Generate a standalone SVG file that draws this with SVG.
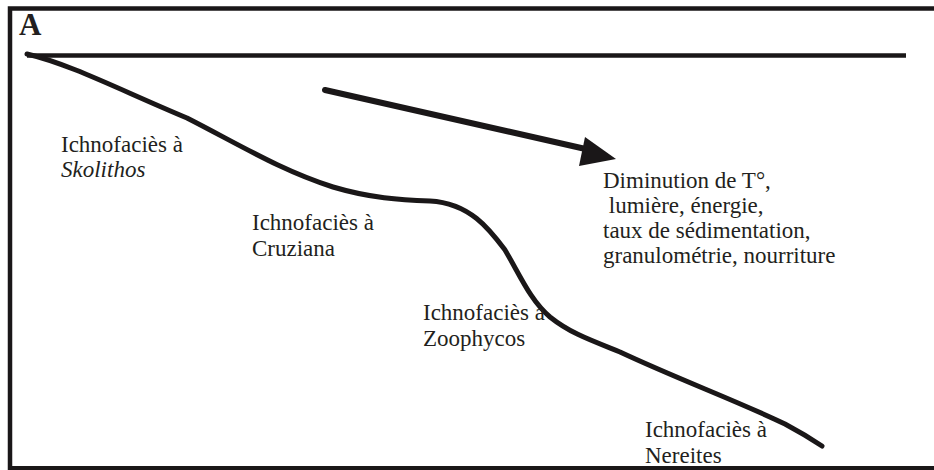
<svg xmlns="http://www.w3.org/2000/svg" width="934" height="470" viewBox="0 0 934 470">
<style>
.t{font-family:"Liberation Serif","Times New Roman",serif;font-size:23px;fill:#231f20}
.i{font-style:italic}
.ln{fill:none;stroke:#1a1718;stroke-linecap:round}
</style>
<rect width="934" height="470" fill="#fff"/>
<g id="frame">
<path class="ln" d="M10,470 V8.5 H934" stroke-width="4.5" style="stroke-linecap:butt"/>
<path class="ln" d="M10,468 H934" stroke-width="4" style="stroke-linecap:butt"/>
<text x="19" y="35" style="font-family:'Liberation Serif',serif;font-weight:bold;font-size:31px;fill:#231f20">A</text>
</g>
<g id="sea-level">
<path class="ln" d="M27,55.5 H906" stroke-width="4.5" style="stroke-linecap:butt"/>
</g>
<g id="profile">
<path class="ln" stroke-width="5" d="M27,54 C70,64 120,90 187,118 C240,145 280,170 333,187 C370,198 400,200 430,201 C470,203 490,230 505,250 C520,275 530,300 550,317 C570,333 590,340 620,352 C680,380 735,400 785,424 C800,432 810,438 822,446"/>
</g>
<g id="connectors">
<path class="ln" d="M325,90 L590,150" stroke-width="6"/>
<polygon points="585,137 616,159 579,166" fill="#1a1718"/>
</g>
<g id="skolithos">
<text class="t" x="61" y="152">Ichnofaciès à</text>
<text class="t i" x="61" y="177">Skolithos</text>
</g>
<g id="cruziana">
<text class="t" x="252" y="230">Ichnofaciès à</text>
<text class="t" x="252" y="256">Cruziana</text>
</g>
<g id="zoophycos">
<text class="t" x="423" y="320">Ichnofaciès à</text>
<text class="t" x="423" y="346">Zoophycos</text>
</g>
<g id="nereites">
<text class="t" x="645" y="437">Ichnofaciès à</text>
<text class="t" x="645" y="463">Nereites</text>
</g>
<g id="diminution">
<text class="t" x="603" y="188">Diminution de T°,</text>
<text class="t" x="603" y="213" xml:space="preserve"> lumière, énergie,</text>
<text class="t" x="603" y="238">taux de sédimentation,</text>
<text class="t" x="603" y="263">granulométrie, nourriture</text>
</g>
</svg>
